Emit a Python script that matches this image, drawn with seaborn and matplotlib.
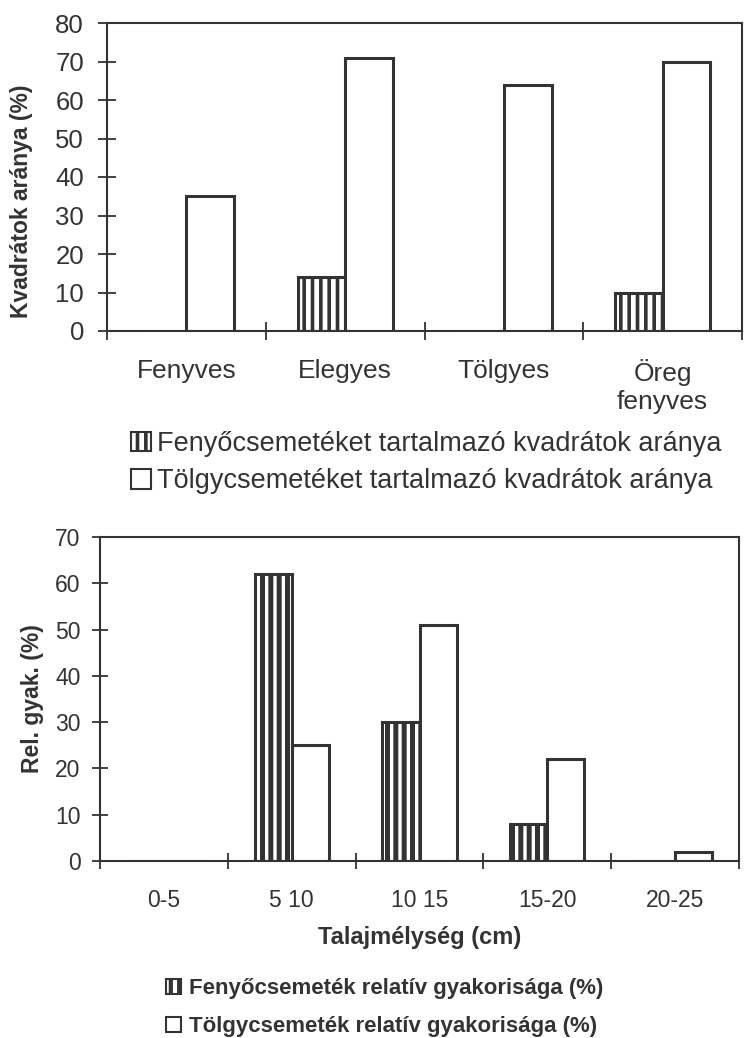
import numpy as np
import pandas as pd
import seaborn as sns
import matplotlib.pyplot as plt
from matplotlib.patches import Patch

# felso abra: kvadratok aranya allomanytipusonkent
allomany = ["Fenyves", "Elegyes", "Tölgyes", "Öreg\nfenyves"]
fenyo_kvadrat = [0, 14, 0, 10]
tolgy_kvadrat = [35, 71, 64, 70]

# also abra: relativ gyakorisag talajmelyseg szerint
melyseg = ["0-5", "5 10", "10 15", "15-20", "20-25"]
fenyo_rel = [0, 62, 30, 8, 0]
tolgy_rel = [0, 25, 51, 22, 2]

felso_legend = ["Fenyőcsemetéket tartalmazó kvadrátok aránya",
                "Tölgycsemetéket tartalmazó kvadrátok aránya"]
also_legend = ["Fenyőcsemeték relatív gyakorisága (%)",
               "Tölgycsemeték relatív gyakorisága (%)"]

INK = "#333333"

sns.set_style("ticks")
plt.rcParams["font.family"] = ["Liberation Sans", "DejaVu Sans"]
plt.rcParams["text.color"] = INK
plt.rcParams["axes.labelcolor"] = INK
plt.rcParams["xtick.color"] = INK
plt.rcParams["ytick.color"] = INK


def long_df(cats, a, b, names):
    return pd.DataFrame({
        "kat": cats * 2,
        "ertek": a + b,
        "sor": [names[0]] * len(cats) + [names[1]] * len(cats),
    })


def csikos(patch, hlw):
    patch.set_hatch("||")
    if hasattr(patch, "set_hatch_linewidth"):
        patch.set_hatch_linewidth(hlw)


def draw(ax, df, n, width, ymax, lw, hlw):
    plt.rcParams["hatch.linewidth"] = hlw
    sns.barplot(data=df, x="kat", y="ertek", hue="sor", ax=ax,
                palette=["white", "white"], edgecolor=INK, linewidth=lw,
                width=width, gap=0, legend=False, saturation=1)
    for bar in ax.containers[0]:
        csikos(bar, hlw)
    ax.set_xlim(-0.5, n - 0.5)
    ax.set_ylim(0, ymax)
    ax.set_yticks(np.arange(0, ymax + 1, 10))
    ax.set_xticks(np.arange(-0.5, n), minor=True)
    for s in ax.spines.values():
        s.set_visible(True)
        s.set_linewidth(1.5)
        s.set_color(INK)
    ax.set_xlabel("")
    ax.set_ylabel("")


fig = plt.figure(figsize=(7.47, 10.38), dpi=100)

# --- felso ---
ax1 = fig.add_axes([107 / 747, 1 - 331 / 1038, 635 / 747, 308 / 1038])
draw(ax1, long_df(allomany, fenyo_kvadrat, tolgy_kvadrat, felso_legend),
     len(allomany), 0.6, 80, 2.2, 2.6)
ax1.set_ylabel("Kvadrátok aránya (%)", fontsize=16.5, fontweight="bold")
ax1.yaxis.set_label_coords(-0.117, 0.42)
ax1.tick_params(axis="y", direction="inout", length=13, width=1.3, labelsize=18.5, pad=10)
ax1.tick_params(axis="x", which="major", length=0, labelsize=19, pad=20)
ax1.tick_params(axis="x", which="minor", direction="inout", length=13, width=1.3)

plt.rcParams["hatch.linewidth"] = 2.6
h_f1 = Patch(facecolor="white", edgecolor=INK, linewidth=1.5)
csikos(h_f1, 2.6)
handles1 = [h_f1, Patch(facecolor="white", edgecolor=INK, linewidth=1.5)]
fig.legend(handles1, felso_legend, loc="upper left",
           bbox_to_anchor=(131 / 747, 1 - 431 / 1038), frameon=False,
           fontsize=19.5, handlelength=0.72, handleheight=0.72,
           handletextpad=0.25, labelspacing=0.42, borderpad=0, borderaxespad=0)

# --- also ---
ax2 = fig.add_axes([100 / 747, 1 - 861 / 1038, 639 / 747, 324 / 1038])
draw(ax2, long_df(melyseg, fenyo_rel, tolgy_rel, also_legend),
     len(melyseg), 0.58, 70, 2.2, 3.6)
ax2.set_ylabel("Rel. gyak. (%)", fontsize=16.5, fontweight="bold")
ax2.yaxis.set_label_coords(-0.088, 0.5)
ax2.set_xlabel("Talajmélység (cm)", fontsize=17, fontweight="bold", labelpad=10)
ax2.tick_params(axis="y", direction="inout", length=12, width=1.3, labelsize=16.5, pad=8)
ax2.tick_params(axis="x", which="major", length=0, labelsize=16.5, pad=20)
ax2.tick_params(axis="x", which="minor", direction="inout", length=12, width=1.3)

plt.rcParams["hatch.linewidth"] = 3.0
h_f2 = Patch(facecolor="white", edgecolor=INK, linewidth=1.5)
csikos(h_f2, 3.0)
handles2 = [h_f2, Patch(facecolor="white", edgecolor=INK, linewidth=1.5)]
fig.legend(handles2, also_legend, loc="upper left",
           bbox_to_anchor=(166 / 747, 1 - 978 / 1038), frameon=False,
           prop={"size": 16, "weight": "bold"}, handlelength=0.68, handleheight=0.68,
           handletextpad=0.35, labelspacing=0.78, borderpad=0, borderaxespad=0)

fig.savefig("out.png", dpi=100, facecolor="white")
